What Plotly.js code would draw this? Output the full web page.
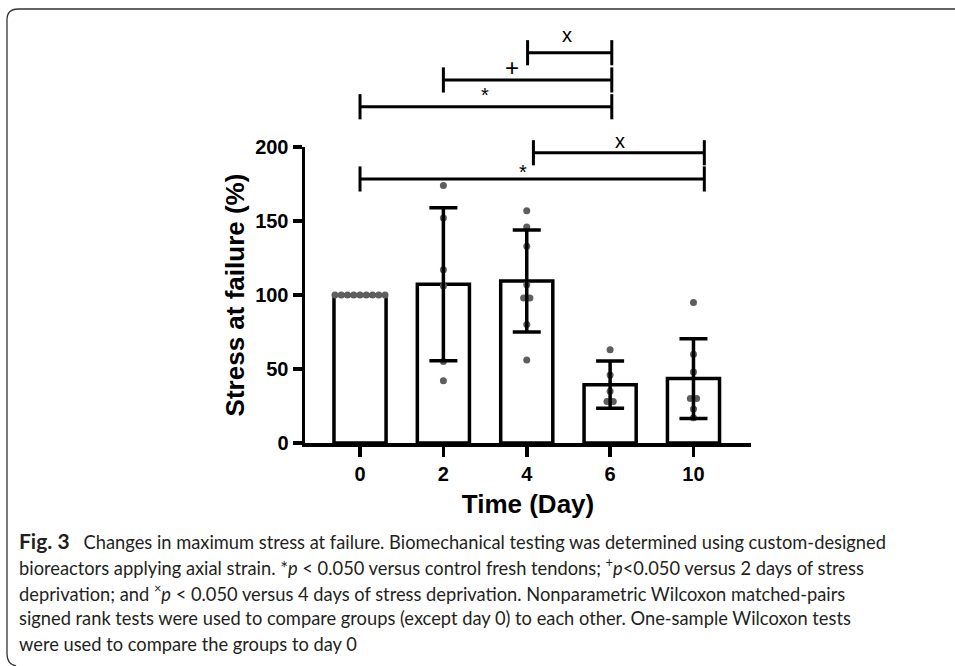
<!DOCTYPE html>
<html>
<head>
<meta charset="utf-8">
<script src="https://cdn.plot.ly/plotly-3.0.1.min.js"></script>
<style>html,body{margin:0;padding:0;background:#fff;}#chart{width:955px;height:666px;}</style>
</head>
<body>
<div id="chart"></div>
<script>
// ---------------- data ----------------
const categories = ["0", "2", "4", "6", "10"];
const meanValues = [100, 107.3, 109.5, 39.4, 43.5];
const sdValues   = [0, 51.7, 34.5, 16, 27];
const day0Points  = [100, 100, 100, 100, 100, 100, 100, 100, 100];
const day2Points  = [174, 152, 117, 106, 55, 42];
const day4Points  = [157, 146, 133, 107, 98, 98, 80, 56];
const day6Points  = [63, 46, 35, 28, 28];
const day10Points = [95, 60, 48, 30, 30, 23, 17];
const pointGroups = [day0Points, day2Points, day4Points, day6Points, day10Points];
const yTickValues = [0, 50, 100, 150, 200];

// significance brackets (x in category index, y in axis units)
const brackets = [
  {x0: 0,    x1: 4.13, y: 178.4, label: "*", lx: 1.96, ly: 183},
  {x0: 2.08, x1: 4.13, y: 196.1, label: "x", lx: 3.12, ly: 204},
  {x0: 0,    x1: 3.02, y: 227.2, label: "*", lx: 1.5,  ly: 235},
  {x0: 1.0,  x1: 3.02, y: 245.3, label: "+", lx: 1.82, ly: 254},
  {x0: 2.01, x1: 3.02, y: 263.7, label: "x", lx: 2.48, ly: 276}
];

const captionLines = [
  "<span style=\"font-size:21px\"><b>Fig. 3</b></span>   Changes in maximum stress at failure. Biomechanical testing was determined using custom-designed",
  "bioreactors applying axial strain. *<i>p</i> < 0.050 versus control fresh tendons; <sup>+</sup><i>p</i><0.050 versus 2 days of stress",
  "deprivation; and <sup>×</sup><i>p</i> < 0.050 versus 4 days of stress deprivation. Nonparametric Wilcoxon matched-pairs",
  "signed rank tests were used to compare groups (except day 0) to each other. One-sample Wilcoxon tests",
  "were used to compare the groups to day 0"
];

// ---------------- layout geometry ----------------
const W = 955, H = 666;
const M = {l: 305, r: 204, t: 147, b: 223};
const plotW = W - M.l - M.r, plotH = H - M.t - M.b;
const yMax = 200;
const px2x = px => (px - M.l) / plotW;           // pixel -> paper x
const py2y = py => (H - M.b - py) / plotH;       // pixel -> paper y
const v2y = v => v / yMax;                        // axis units -> paper y

// beeswarm-like horizontal spread for equal values
function spread(vals, step, tol) {
  const idx = vals.map((v, i) => i).sort((a, b) => vals[a] - vals[b]);
  const off = new Array(vals.length).fill(0);
  let i = 0;
  while (i < idx.length) {
    let j = i;
    while (j + 1 < idx.length && Math.abs(vals[idx[j + 1]] - vals[idx[i]]) <= tol) j++;
    const n = j - i + 1;
    for (let k = 0; k < n; k++) off[idx[i + k]] = (k - (n - 1) / 2) * step;
    i = j + 1;
  }
  return off;
}

const dotX = [], dotY = [];
pointGroups.forEach((g, gi) => {
  const off = spread(g, 0.075, 2);
  g.forEach((v, k) => { dotX.push(gi + off[k]); dotY.push(v); });
});

const idx = categories.map((c, i) => i);
const errX = [], errY = [], errV = [];
idx.forEach(i => { if (sdValues[i] > 0) { errX.push(i); errY.push(meanValues[i]); errV.push(sdValues[i]); } });

const traces = [
  {type: "bar", x: idx, y: meanValues, width: 0.625,
   marker: {color: "#ffffff", line: {color: "#000000", width: 3.5}}, hoverinfo: "skip"},
  {type: "scatter", mode: "markers", x: dotX, y: dotY,
   marker: {color: "#5e5e5e", size: 7}, hoverinfo: "skip", cliponaxis: false},
  {type: "scatter", mode: "markers", x: errX, y: errY,
   marker: {color: "rgba(0,0,0,0)", size: 1},
   error_y: {type: "data", array: errV, visible: true, color: "#000000", thickness: 3.5, width: 14},
   hoverinfo: "skip", cliponaxis: false}
];

const shapes = [];
const annotations = [];
const tickHalf = 8.5;
brackets.forEach(b => {
  const line = {color: "#000000", width: 3};
  shapes.push({type: "line", xref: "x", yref: "paper", x0: b.x0, x1: b.x1, y0: v2y(b.y), y1: v2y(b.y), line});
  shapes.push({type: "line", xref: "x", yref: "paper", x0: b.x0, x1: b.x0, y0: v2y(b.y - tickHalf), y1: v2y(b.y + tickHalf), line});
  shapes.push({type: "line", xref: "x", yref: "paper", x0: b.x1, x1: b.x1, y0: v2y(b.y - tickHalf), y1: v2y(b.y + tickHalf), line});
  annotations.push({xref: "x", yref: "paper", x: b.lx, y: v2y(b.ly), text: b.label, showarrow: false,
    font: {family: "Liberation Sans, Arial, sans-serif", size: b.label === "+" ? 24 : 20, color: "#000"},
    xanchor: "center", yanchor: "middle"});
});

// figure frame
shapes.push({type: "path", xref: "paper", yref: "paper",
  path: `M ${px2x(W + 5)} ${py2y(9)} L ${px2x(18)} ${py2y(9)} Q ${px2x(7)} ${py2y(9)} ${px2x(7)} ${py2y(20)} L ${px2x(7)} ${py2y(654)} Q ${px2x(7)} ${py2y(664)} ${px2x(16)} ${py2y(666)}`,
  line: {color: "#333333", width: 1.3}});

// caption
const capTop = 540, capStep = 26;
captionLines.forEach((t, i) => {
  annotations.push({xref: "paper", yref: "paper", x: px2x(17), y: py2y(capTop + i * capStep),
    text: t, showarrow: false, xanchor: "left", yanchor: "middle", align: "left",
    font: {family: "Lato, DejaVu Sans Condensed, sans-serif", size: 18.3, color: "#231f20"}});
});

const axisFont = {family: "Liberation Sans, Arial, sans-serif", size: 20, color: "#000", weight: "bold"};
const layout = {
  width: W, height: H, autosize: false,
  margin: M,
  paper_bgcolor: "#ffffff", plot_bgcolor: "#ffffff",
  showlegend: false,
  bargap: 0,
  xaxis: {range: [-0.66, 4.69], tickvals: idx, ticktext: categories,
    showline: true, linecolor: "#000", linewidth: 3.5, ticks: "outside", ticklen: 10, tickwidth: 3.5, tickcolor: "#000",
    showgrid: false, zeroline: false, tickfont: axisFont,
    title: {text: "Time (Day)", font: {family: "Liberation Sans, Arial, sans-serif", size: 26, color: "#000", weight: "bold"}, standoff: 12}},
  yaxis: {range: [0, yMax], tickvals: yTickValues,
    showline: true, linecolor: "#000", linewidth: 3.5, ticks: "outside", ticklen: 9, tickwidth: 3.5, tickcolor: "#000",
    showgrid: false, zeroline: false, tickfont: axisFont,
    title: {text: "Stress at failure (%)", font: {family: "Liberation Sans, Arial, sans-serif", size: 26, color: "#000", weight: "bold"}, standoff: 4}},
  shapes, annotations
};

Plotly.newPlot("chart", traces, layout, {staticPlot: true, displayModeBar: false});
</script>
</body>
</html>
